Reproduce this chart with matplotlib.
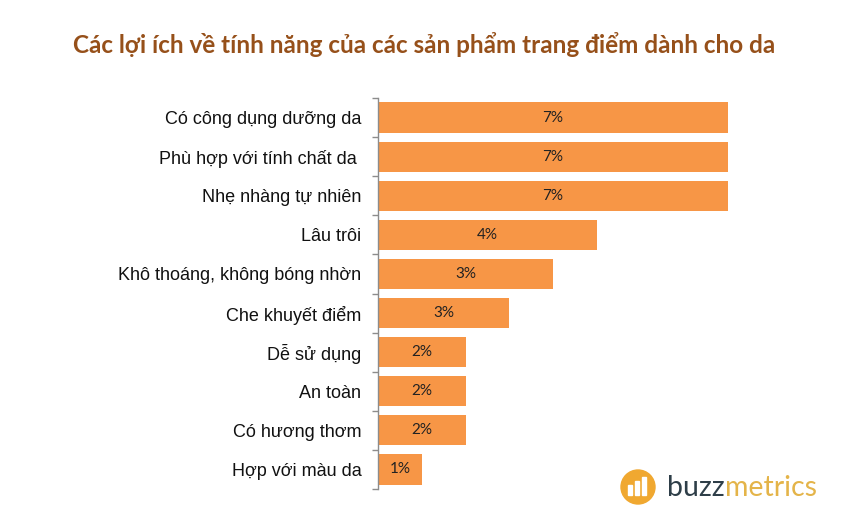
import matplotlib
matplotlib.use('Agg')
import matplotlib.pyplot as plt
from matplotlib.patches import Circle, Rectangle

# Data (share of mentions, %)
categories = ['Có công dụng dưỡng da', 'Phù hợp với tính chất da ', 'Nhẹ nhàng tự nhiên',
              'Lâu trôi', 'Khô thoáng, không bóng nhờn', 'Che khuyết điểm',
              'Dễ sử dụng', 'An toàn', 'Có hương thơm', 'Hợp với màu da']
values = [6.96, 6.96, 6.96, 4.35, 3.48, 2.61, 1.74, 1.74, 1.74, 0.87]
title = 'Các lợi ích về tính năng của các sản phẩm trang điểm dành cho da'

W, H = 841, 526
fig = plt.figure(figsize=(W / 100, H / 100), dpi=100)
fig.patch.set_facecolor('white')

# axes placed in pixel terms
px_per_pct = 350 / 6.96
left, right, top, bottom = 378, 790, 98, 489
ax = fig.add_axes([left / W, 1 - bottom / H, (right - left) / W, (bottom - top) / H])

y = range(len(categories))
bars = ax.barh(y, values, height=0.77, color='#F79646', edgecolor='none')
ax.set_xlim(0, (right - left) / px_per_pct)
ax.set_ylim(len(categories) - 0.5, -0.5)

for b, v in zip(bars, values):
    ax.text(b.get_width() / 2, b.get_y() + b.get_height() / 2, f'{v:.0f}%',
            ha='center', va='center', fontsize=11, family='Lato', color='#222222')

# y axis look
for s in ['top', 'right', 'bottom']:
    ax.spines[s].set_visible(False)
ax.spines['left'].set_color('#8c8c8c')
ax.spines['left'].set_linewidth(1)
ax.set_xticks([])
ax.set_yticks(list(y))
ax.set_yticklabels(categories, family='Liberation Sans', fontsize=13, color='#111111')
ax.tick_params(axis='y', which='major', length=0, pad=12)
ax.set_yticks([i + 0.5 for i in range(-1, len(categories))], minor=True)
ax.tick_params(axis='y', which='minor', length=4, color='#8c8c8c', width=1)

fig.text(424 / W, 1 - 45 / H, title, ha='center', va='center', fontsize=17.5,
         fontweight='bold', family='Lato', color='#96501A')

# buzzmetrics logo
lax = fig.add_axes([0, 0, 1, 1], zorder=5)
lax.set_xlim(0, W)
lax.set_ylim(H, 0)
lax.axis('off')
lax.add_patch(Circle((638, 487), 17, color='#F0A830'))
for bx, bh in [(630, 10), (637, 14), (644, 18)]:
    lax.add_patch(Rectangle((bx - 2, 495 - bh), 4, bh, color='white'))
t1 = lax.text(667, 488, 'buzz', ha='left', va='center', fontsize=20.5, family='Lato',
              color='#2E3E48')
fig.canvas.draw()
x_end = lax.transData.inverted().transform(t1.get_window_extent().get_points())[1][0]
lax.text(x_end, 488, 'metrics', ha='left', va='center', fontsize=20.5, family='Lato',
         color='#E4B449')

fig.savefig('out.png', dpi=100)
